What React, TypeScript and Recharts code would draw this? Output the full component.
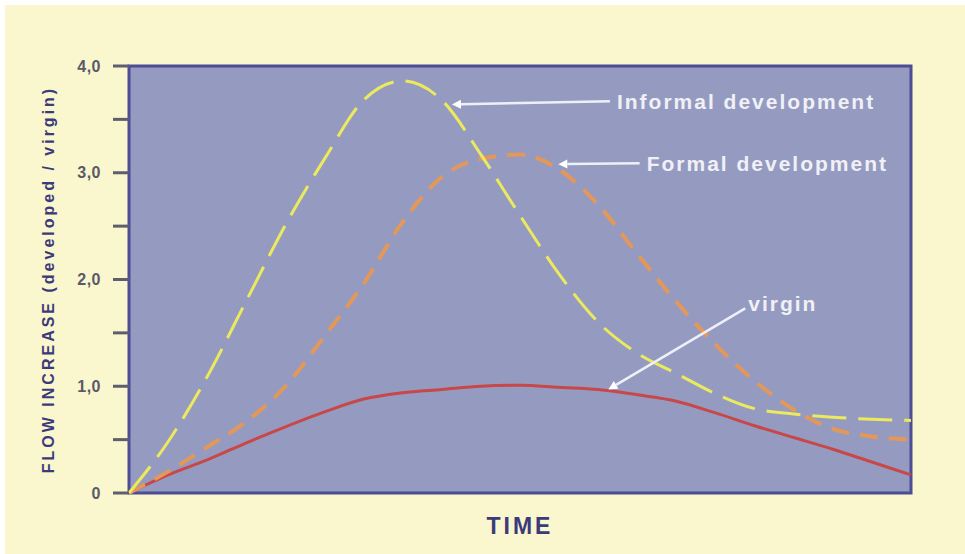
import React from "react";
import {
  LineChart,
  Line,
  XAxis,
  YAxis,
  CartesianGrid,
  ReferenceArea,
  ReferenceLine,
} from "recharts";

// time axis, 0..100 (no labels on the original)
const time = [0, 5, 10, 15, 20, 25, 30, 35, 40, 45, 50, 55, 60, 65, 70, 75, 80, 85, 90, 95, 100];
const informal = [0, 0.48, 1.09, 1.8, 2.51, 3.13, 3.68, 3.86, 3.68, 3.17, 2.6, 2.05, 1.6, 1.31, 1.12, 0.93, 0.79, 0.74, 0.71, 0.69, 0.68];
const formal = [0, 0.2, 0.43, 0.67, 1.0, 1.47, 1.96, 2.54, 2.96, 3.13, 3.17, 3.03, 2.7, 2.24, 1.79, 1.39, 1.05, 0.78, 0.6, 0.53, 0.5];
const virgin = [0, 0.17, 0.31, 0.47, 0.62, 0.76, 0.88, 0.94, 0.97, 1.0, 1.01, 0.99, 0.97, 0.92, 0.86, 0.75, 0.63, 0.52, 0.41, 0.29, 0.17];

const yTicks = [0, 0.5, 1, 1.5, 2, 2.5, 3, 3.5, 4];
const yLabels: Record<number, string> = { 0: "0", 1: "1,0", 2: "2,0", 3: "3,0", 4: "4,0" };

// callouts: label, tail point, arrow tip (data coords)
const callouts = [
  { text: "Informal development", from: { x: 61.5, y: 3.67 }, to: { x: 41.3, y: 3.64 } },
  { text: "Formal development", from: { x: 65.3, y: 3.09 }, to: { x: 54.9, y: 3.08 } },
  { text: "virgin", from: { x: 78.8, y: 1.73 }, to: { x: 61.3, y: 0.97 } },
];

const data = time.map((t, i) => ({
  x: t,
  informal: informal[i],
  formal: formal[i],
  virgin: virgin[i],
}));

const FONT = "'Liberation Sans', Arial, sans-serif";

function Arrow(props: any) {
  const { x1, y1, x2, y2, text, diagonal } = props;
  const a = Math.atan2(y2 - y1, x2 - x1);
  const len = 9;
  const w = 4.5;
  const bx = x2 - len * Math.cos(a);
  const by = y2 - len * Math.sin(a);
  const pts = [
    [x2, y2],
    [bx + w * Math.sin(a), by - w * Math.cos(a)],
    [bx - w * Math.sin(a), by + w * Math.cos(a)],
  ]
    .map((p) => p.join(","))
    .join(" ");
  return (
    <g>
      <line x1={x1} y1={y1} x2={bx} y2={by} stroke="#eef0f8" strokeWidth={2.5} />
      <polygon points={pts} fill="#ffffff" />
      <text
        x={x1 + (diagonal ? 3 : 7)}
        y={y1 - (diagonal ? 5 : 0)}
        dominantBaseline="central"
        fill="#f0f0f6"
        fontFamily={FONT}
        fontWeight="bold"
        fontSize={21}
        letterSpacing={2}
      >
        {text}
      </text>
    </g>
  );
}

const YTick = (props: any) => {
  const { x, y, payload } = props;
  const label = yLabels[payload.value];
  if (!label) return null;
  return (
    <text
      x={x}
      y={y}
      textAnchor="end"
      dominantBaseline="central"
      fill="#5a5a68"
      fontFamily={FONT}
      fontWeight="bold"
      fontSize={16}
      letterSpacing={0.5}
    >
      {label}
    </text>
  );
};

export default function App() {
  return (
    <div
      style={{
        position: "absolute",
        left: 5,
        top: 5,
        width: 960,
        height: 549,
        background: "#faf6cd",
        overflow: "hidden",
      }}
    >
      <LineChart
        width={960}
        height={549}
        data={data}
        margin={{ top: 61, right: 54, bottom: 0, left: 30 }}
      >
        <CartesianGrid horizontal={false} vertical={false} fill="#959bc0" />
        <XAxis
          dataKey="x"
          type="number"
          domain={[0, 100]}
          height={61}
          tick={false}
          tickLine={false}
          axisLine={false}
          label={{
            value: "TIME",
            position: "insideTop",
            offset: 25,
            fill: "#3b3b7c",
            fontSize: 23,
            fontWeight: "bold",
            fontFamily: FONT,
            letterSpacing: 3,
          }}
        />
        <YAxis
          type="number"
          domain={[0, 4]}
          ticks={yTicks}
          width={94}
          tickSize={16}
          tickMargin={12}
          tickLine={{ stroke: "#5e5e6e", strokeWidth: 3 }}
          axisLine={false}
          tick={<YTick />}
          label={{
            value: "FLOW INCREASE (developed / virgin)",
            angle: -90,
            position: "insideLeft",
            offset: 13,
            fill: "#3b3b7c",
            fontSize: 16,
            fontWeight: "bold",
            fontFamily: FONT,
            letterSpacing: 3,
            style: { textAnchor: "middle" },
          }}
        />
        <Line
          type="monotone"
          dataKey="virgin"
          stroke="#c84748"
          strokeWidth={3}
          dot={false}
          isAnimationActive={false}
        />
        <Line
          type="monotone"
          dataKey="formal"
          stroke="#e3985a"
          strokeWidth={4}
          strokeDasharray="18 11"
          dot={false}
          isAnimationActive={false}
        />
        <Line
          type="monotone"
          dataKey="informal"
          stroke="#ebe95e"
          strokeWidth={3}
          strokeDasharray="34 12"
          dot={false}
          isAnimationActive={false}
        />
        <ReferenceArea
          x1={0}
          x2={100}
          y1={0}
          y2={4}
          fill="none"
          stroke="#4d4d96"
          strokeWidth={3}
        />
        {callouts.map((c, i) => (
          <ReferenceLine
            key={c.text}
            segment={[c.from, c.to]}
            shape={(p: any) => <Arrow {...p} text={c.text} diagonal={i === 2} />}
          />
        ))}
      </LineChart>
    </div>
  );
}
